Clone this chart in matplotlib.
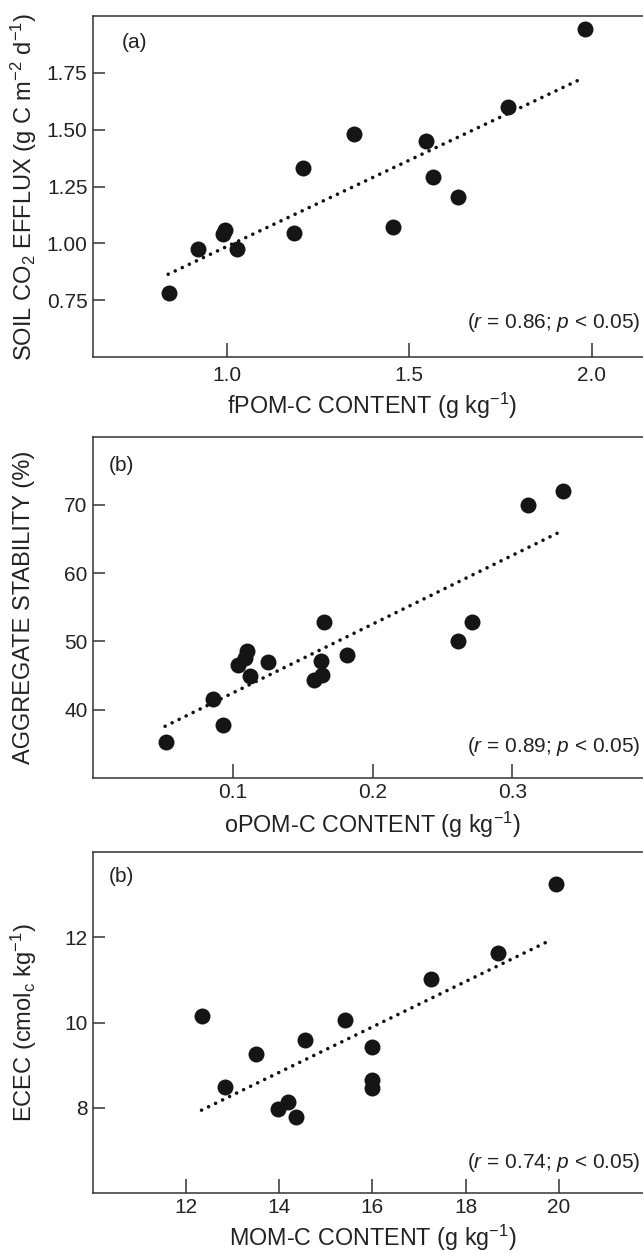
import matplotlib
matplotlib.use("Agg")
import matplotlib.pyplot as plt

plt.rcParams['font.family'] = ['Liberation Sans', 'DejaVu Sans']
plt.rcParams['mathtext.fontset'] = 'custom'
plt.rcParams['mathtext.rm'] = 'Liberation Sans'
plt.rcParams['mathtext.it'] = 'Liberation Sans:italic'
plt.rcParams['mathtext.default'] = 'regular'

# (a) soil CO2 efflux vs fPOM-C
fpom = [0.84, 0.92, 0.988, 0.995, 1.028, 1.183, 1.209, 1.348, 1.454, 1.545, 1.566, 1.632, 1.769, 1.981]
co2 = [0.78, 0.977, 1.043, 1.058, 0.977, 1.046, 1.332, 1.479, 1.07, 1.449, 1.291, 1.203, 1.598, 1.945]
fit_a = ([0.839, 1.973], [0.864, 1.725])

# (b) aggregate stability vs oPOM-C
opom = [0.052, 0.086, 0.093, 0.104, 0.1085, 0.110, 0.1126, 0.125, 0.158, 0.163, 0.164, 0.165,
        0.182, 0.261, 0.271, 0.311, 0.336]
stab = [35.2, 41.6, 37.7, 46.6, 47.6, 48.6, 44.9, 46.9, 44.4, 47.1, 45.1, 52.8,
        48.0, 50.1, 52.9, 70.0, 72.1]
fit_b = ([0.0516, 0.336], [37.55, 66.24])

# (b) ECEC vs MOM-C
mom = [12.33, 12.83, 13.49, 13.98, 14.18, 14.36, 14.56, 15.42, 15.99, 15.99, 15.99, 17.25, 18.69, 19.94]
ecec = [10.16, 8.48, 9.27, 7.97, 8.14, 7.78, 9.60, 10.05, 9.43, 8.66, 8.46, 11.03, 11.64, 13.25]
fit_c = ([12.33, 19.85], [7.94, 11.95])

panels = [
    dict(x=fpom, y=co2, fit=fit_a, tag='(a)', tagpos=(0.052, 0.921),
         xlim=(0.633, 2.165), ylim=(0.5, 2.0),
         xticks=[1.0, 1.5, 2.0], xtl=['1.0', '1.5', '2.0'],
         yticks=[0.75, 1.0, 1.25, 1.5, 1.75], ytl=['0.75', '1.00', '1.25', '1.50', '1.75'],
         xlabel='fPOM-C CONTENT (g kg$^{−1}$)',
         ylabel='SOIL CO$_2$ EFFLUX (g C m$^{−2}$ d$^{−1}$)',
         stat='(r = 0.86; p < 0.05)', stat_y=0.085, xlab_y=-0.166, xpad=6.5,
         rect=[93 / 643, 0.7151, 559 / 643, 0.2721]),
    dict(x=opom, y=stab, fit=fit_b, tag='(b)', tagpos=(0.029, 0.917),
         xlim=(0.0, 0.4), ylim=(30, 80),
         xticks=[0.1, 0.2, 0.3], xtl=['0.1', '0.2', '0.3'],
         yticks=[40, 50, 60, 70], ytl=['40', '50', '60', '70'],
         xlabel='oPOM-C CONTENT (g kg$^{−1}$)',
         ylabel='AGGREGATE STABILITY (%)',
         stat='(r = 0.89; p < 0.05)', stat_y=0.076, xlab_y=-0.161, xpad=3.5,
         rect=[93 / 643, 0.3793, 559 / 643, 0.2721]),
    dict(x=mom, y=ecec, fit=fit_c, tag='(b)', tagpos=(0.029, 0.93),
         xlim=(10, 22), ylim=(6, 14),
         xticks=[12, 14, 16, 18, 20], xtl=['12', '14', '16', '18', '20'],
         yticks=[8, 10, 12], ytl=['8', '10', '12'],
         xlabel='MOM-C CONTENT (g kg$^{−1}$)',
         ylabel='ECEC (cmol$_\\mathrm{c}$ kg$^{−1}$)',
         stat='(r = 0.74; p < 0.05)', stat_y=0.073, xlab_y=-0.157, xpad=3.5,
         rect=[93 / 643, 0.0481, 559 / 643, 0.2717]),
]

fig = plt.figure(figsize=(6.43, 12.53), dpi=100)

for p in panels:
    ax = fig.add_axes(p['rect'])
    ax.plot(p['fit'][0], p['fit'][1], color='#111111', lw=2.6,
            linestyle=(0, (0.01, 2.15)), dash_capstyle='round', zorder=2)
    ax.plot(p['x'], p['y'], 'o', color='#151515', ms=11.5, mec='none', zorder=3)

    ax.set_xlim(*p['xlim'])
    ax.set_ylim(*p['ylim'])
    ax.set_xticks(p['xticks'])
    ax.set_xticklabels(p['xtl'])
    ax.set_yticks(p['yticks'])
    ax.set_yticklabels(p['ytl'])
    ax.tick_params(axis='x', direction='in', length=10, width=1.1, pad=p['xpad'],
                   labelsize=15, colors='#333333', labelcolor='#222222')
    ax.tick_params(axis='y', direction='in', length=8.5, width=1.1, pad=4,
                   labelsize=15, colors='#333333', labelcolor='#222222')
    for side in ['left', 'bottom', 'top']:
        ax.spines[side].set_linewidth(1.1)
        ax.spines[side].set_color('#333333')
    ax.spines['right'].set_visible(False)

    ax.set_xlabel(p['xlabel'], fontsize=16.8, color='#222222')
    ax.xaxis.label.set_va('baseline')
    ax.xaxis.set_label_coords(0.5, p['xlab_y'])
    ax.set_ylabel(p['ylabel'], fontsize=17, color='#222222')
    ax.yaxis.label.set_va('center')
    ax.yaxis.set_label_coords(-0.123, 0.5)

    r_part, p_part = p['stat'][1:-1].split('; ')
    stat = '($\\it{r}$' + r_part[1:] + '; $\\it{p}$' + p_part[1:] + ')'
    ax.text(0.98, p['stat_y'], stat, transform=ax.transAxes, ha='right', va='baseline',
            fontsize=15, color='#222222')
    ax.text(p['tagpos'][0], p['tagpos'][1], p['tag'], transform=ax.transAxes,
            ha='left', va='center', fontsize=15, color='#222222')

fig.savefig('out.png', dpi=100)
